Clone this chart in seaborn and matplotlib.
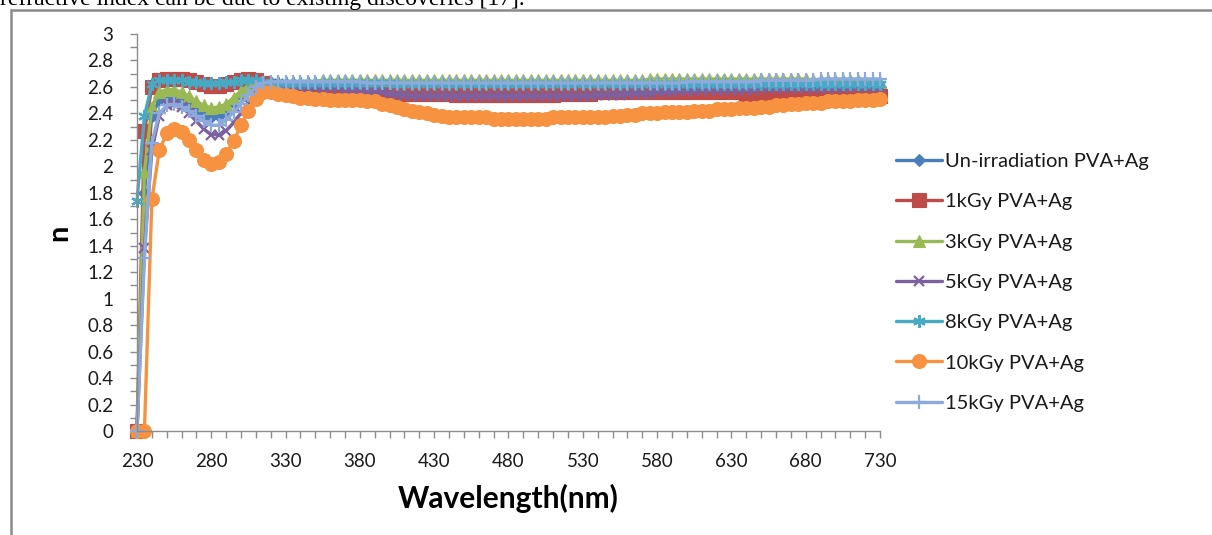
import numpy as np
import pandas as pd
import matplotlib
matplotlib.use("Agg")
import matplotlib.pyplot as plt
from matplotlib.lines import Line2D
from matplotlib.patches import Rectangle
import seaborn as sns

# Wavelength grid (nm)
wavelength = list(range(230, 735, 5))

# Refractive index n for each sample
n_unirr = [
    0.00, 1.80, 2.38, 2.50, 2.52, 2.51, 2.48, 2.45, 2.41, 2.38,
    2.37, 2.38, 2.42, 2.48, 2.54, 2.59, 2.62, 2.63, 2.62, 2.61,
    2.61, 2.61, 2.61, 2.61, 2.61, 2.61, 2.61, 2.60, 2.60, 2.60,
    2.60, 2.60, 2.60, 2.60, 2.60, 2.60, 2.59, 2.59, 2.59, 2.59,
    2.59, 2.59, 2.59, 2.59, 2.59, 2.59, 2.59, 2.59, 2.59, 2.59,
    2.59, 2.59, 2.59, 2.59, 2.59, 2.59, 2.59, 2.59, 2.59, 2.59,
    2.59, 2.59, 2.59, 2.59, 2.59, 2.60, 2.60, 2.60, 2.60, 2.60,
    2.60, 2.60, 2.60, 2.60, 2.60, 2.60, 2.60, 2.60, 2.60, 2.60,
    2.60, 2.60, 2.60, 2.60, 2.60, 2.60, 2.60, 2.60, 2.60, 2.60,
    2.60, 2.60, 2.60, 2.60, 2.60, 2.60, 2.60, 2.60, 2.60, 2.60,
    2.60,
]
n_1kgy = [
    0.00, 2.27, 2.60, 2.65, 2.66, 2.66, 2.66, 2.65, 2.64, 2.62,
    2.61, 2.61, 2.62, 2.64, 2.65, 2.66, 2.65, 2.63, 2.61, 2.60,
    2.60, 2.59, 2.59, 2.58, 2.58, 2.58, 2.58, 2.58, 2.57, 2.57,
    2.57, 2.56, 2.56, 2.55, 2.55, 2.55, 2.55, 2.55, 2.55, 2.55,
    2.55, 2.55, 2.55, 2.54, 2.54, 2.54, 2.54, 2.54, 2.54, 2.54,
    2.54, 2.54, 2.54, 2.54, 2.54, 2.54, 2.54, 2.55, 2.55, 2.55,
    2.55, 2.55, 2.56, 2.56, 2.56, 2.56, 2.56, 2.56, 2.56, 2.56,
    2.56, 2.56, 2.56, 2.56, 2.56, 2.56, 2.56, 2.56, 2.56, 2.56,
    2.56, 2.56, 2.55, 2.55, 2.55, 2.55, 2.55, 2.55, 2.55, 2.55,
    2.55, 2.55, 2.55, 2.54, 2.54, 2.54, 2.54, 2.54, 2.54, 2.54,
    2.53,
]
n_3kgy = [
    0.00, 1.96, 2.45, 2.56, 2.58, 2.58, 2.56, 2.53, 2.49, 2.46,
    2.44, 2.45, 2.47, 2.52, 2.57, 2.61, 2.63, 2.64, 2.64, 2.64,
    2.64, 2.64, 2.64, 2.64, 2.64, 2.65, 2.65, 2.65, 2.65, 2.65,
    2.65, 2.65, 2.65, 2.65, 2.65, 2.65, 2.65, 2.65, 2.65, 2.65,
    2.65, 2.65, 2.65, 2.65, 2.65, 2.65, 2.65, 2.65, 2.65, 2.65,
    2.65, 2.65, 2.65, 2.65, 2.65, 2.65, 2.65, 2.65, 2.65, 2.65,
    2.65, 2.65, 2.65, 2.65, 2.65, 2.65, 2.65, 2.65, 2.65, 2.66,
    2.66, 2.66, 2.66, 2.66, 2.66, 2.66, 2.66, 2.66, 2.66, 2.66,
    2.66, 2.66, 2.66, 2.66, 2.66, 2.66, 2.66, 2.66, 2.66, 2.66,
    2.66, 2.65, 2.65, 2.65, 2.65, 2.65, 2.65, 2.65, 2.64, 2.64,
    2.64,
]
n_5kgy = [
    0.00, 1.38, 2.12, 2.38, 2.46, 2.47, 2.45, 2.40, 2.34, 2.28,
    2.24, 2.24, 2.27, 2.33, 2.40, 2.48, 2.56, 2.61, 2.62, 2.62,
    2.61, 2.61, 2.60, 2.60, 2.60, 2.59, 2.59, 2.59, 2.58, 2.58,
    2.58, 2.57, 2.56, 2.56, 2.55, 2.54, 2.54, 2.53, 2.53, 2.53,
    2.53, 2.53, 2.53, 2.53, 2.53, 2.53, 2.53, 2.53, 2.53, 2.53,
    2.53, 2.53, 2.53, 2.53, 2.53, 2.53, 2.53, 2.53, 2.53, 2.53,
    2.53, 2.53, 2.54, 2.54, 2.54, 2.54, 2.55, 2.55, 2.55, 2.55,
    2.56, 2.56, 2.56, 2.57, 2.57, 2.57, 2.58, 2.58, 2.58, 2.58,
    2.58, 2.58, 2.58, 2.58, 2.59, 2.59, 2.59, 2.59, 2.59, 2.59,
    2.59, 2.59, 2.59, 2.59, 2.59, 2.59, 2.60, 2.60, 2.60, 2.60,
    2.60,
]
n_8kgy = [
    1.74, 2.38, 2.62, 2.65, 2.65, 2.65, 2.65, 2.64, 2.64, 2.63,
    2.63, 2.63, 2.64, 2.64, 2.65, 2.65, 2.65, 2.64, 2.63, 2.63,
    2.63, 2.63, 2.63, 2.63, 2.63, 2.63, 2.63, 2.63, 2.63, 2.63,
    2.63, 2.63, 2.63, 2.63, 2.63, 2.62, 2.62, 2.62, 2.62, 2.62,
    2.62, 2.62, 2.62, 2.62, 2.62, 2.62, 2.62, 2.62, 2.62, 2.62,
    2.62, 2.62, 2.62, 2.62, 2.62, 2.62, 2.62, 2.62, 2.62, 2.62,
    2.62, 2.62, 2.62, 2.62, 2.62, 2.62, 2.62, 2.62, 2.62, 2.62,
    2.62, 2.62, 2.62, 2.62, 2.62, 2.62, 2.62, 2.62, 2.62, 2.62,
    2.62, 2.62, 2.62, 2.62, 2.62, 2.62, 2.62, 2.62, 2.62, 2.62,
    2.62, 2.62, 2.62, 2.62, 2.62, 2.62, 2.62, 2.62, 2.62, 2.62,
    2.62,
]
n_10kgy = [
    0.00, 0.00, 1.75, 2.12, 2.25, 2.28, 2.26, 2.20, 2.12, 2.05,
    2.02, 2.03, 2.09, 2.19, 2.31, 2.42, 2.51, 2.56, 2.56, 2.55,
    2.54, 2.53, 2.52, 2.52, 2.51, 2.51, 2.50, 2.50, 2.50, 2.50,
    2.50, 2.49, 2.49, 2.47, 2.46, 2.45, 2.43, 2.42, 2.41, 2.40,
    2.39, 2.38, 2.37, 2.37, 2.37, 2.37, 2.37, 2.37, 2.36, 2.36,
    2.36, 2.36, 2.36, 2.36, 2.36, 2.36, 2.37, 2.37, 2.37, 2.37,
    2.37, 2.37, 2.37, 2.37, 2.38, 2.38, 2.39, 2.39, 2.40, 2.40,
    2.40, 2.41, 2.41, 2.41, 2.41, 2.42, 2.42, 2.42, 2.43, 2.43,
    2.43, 2.44, 2.44, 2.44, 2.45, 2.45, 2.46, 2.46, 2.47, 2.47,
    2.48, 2.48, 2.48, 2.49, 2.49, 2.49, 2.49, 2.50, 2.50, 2.50,
    2.51,
]
n_15kgy = [
    0.00, 1.31, 2.18, 2.40, 2.46, 2.47, 2.45, 2.42, 2.38, 2.34,
    2.31, 2.31, 2.35, 2.41, 2.47, 2.54, 2.60, 2.63, 2.64, 2.64,
    2.64, 2.64, 2.64, 2.64, 2.64, 2.64, 2.64, 2.64, 2.64, 2.64,
    2.64, 2.63, 2.63, 2.63, 2.63, 2.63, 2.63, 2.63, 2.63, 2.63,
    2.63, 2.63, 2.63, 2.63, 2.63, 2.63, 2.63, 2.63, 2.63, 2.63,
    2.63, 2.63, 2.63, 2.63, 2.63, 2.63, 2.63, 2.63, 2.63, 2.63,
    2.63, 2.63, 2.63, 2.63, 2.63, 2.63, 2.63, 2.63, 2.63, 2.63,
    2.63, 2.63, 2.63, 2.63, 2.64, 2.64, 2.64, 2.64, 2.64, 2.64,
    2.64, 2.64, 2.64, 2.64, 2.65, 2.65, 2.65, 2.65, 2.65, 2.65,
    2.65, 2.65, 2.66, 2.66, 2.66, 2.66, 2.66, 2.66, 2.66, 2.66,
    2.66,
]

series_names = [
    "Un-irradiation PVA+Ag",
    "1kGy PVA+Ag",
    "3kGy PVA+Ag",
    "5kGy PVA+Ag",
    "8kGy PVA+Ag",
    "10kGy PVA+Ag",
    "15kGy PVA+Ag",
]
series_values = [n_unirr, n_1kgy, n_3kgy, n_5kgy, n_8kgy, n_10kgy, n_15kgy]

x_ticks = [230, 280, 330, 380, 430, 480, 530, 580, 630, 680, 730]
y_ticks = [0, 0.2, 0.4, 0.6, 0.8, 1, 1.2, 1.4, 1.6, 1.8, 2, 2.2, 2.4, 2.6, 2.8, 3]

# Long-form table for seaborn
df = pd.concat(
    [pd.DataFrame({"Wavelength": wavelength, "n": vals, "Sample": name})
     for name, vals in zip(series_names, series_values)],
    ignore_index=True,
)

colors = ["#4A7EBB", "#BE4B48", "#98B954", "#7D60A0", "#46AAC5", "#F69240", "#8EA9DB"]
asterisk = (6, 2, 0)
styles = [
    dict(marker="D", ms=6.5, mew=0.8),
    dict(marker="s", ms=10, mew=0.8),
    dict(marker="^", ms=8, mew=0.8),
    dict(marker="x", ms=7, mew=1.6),
    dict(marker=asterisk, ms=9, mew=1.6),
    dict(marker="o", ms=10, mew=0.8),
    dict(marker="+", ms=10, mew=1.6),
]

sns.set_theme(style="white")
plt.rcParams["font.family"] = ["Lato", "DejaVu Sans"]

W, H = 1212, 535
fig = plt.figure(figsize=(W / 100, H / 100), dpi=100)
ax = fig.add_axes([137 / W, 1 - 431 / H, (880 - 137) / W, (431 - 34) / H])

for name, col, st in zip(series_names, colors, styles):
    sub = df[df["Sample"] == name]
    sns.lineplot(data=sub, x="Wavelength", y="n", ax=ax, color=col, lw=2.4,
                 marker=st["marker"], markersize=st["ms"], markeredgewidth=st["mew"],
                 markeredgecolor=col, markerfacecolor=col, clip_on=False,
                 legend=False, label=name)

ax.set_xlim(230, 730)
ax.set_ylim(0, 3)
ax.set_xticks(x_ticks)
ax.set_xticklabels([str(v) for v in x_ticks])
ax.set_xticks(np.arange(230, 731, 10), minor=True)
ax.set_yticks(y_ticks)
ax.set_yticklabels([f"{v:g}" for v in y_ticks])
ax.set_yticks(np.arange(0, 3.01, 0.1), minor=True)

spine_col = "#8C8C8C"
for side in ["top", "right"]:
    ax.spines[side].set_visible(False)
for side in ["left", "bottom"]:
    ax.spines[side].set_color(spine_col)
    ax.spines[side].set_linewidth(1.0)
ax.tick_params(axis="both", which="both", direction="out", length=5,
               width=1.0, color=spine_col, labelsize=13.5, labelcolor="#1a1a1a")
ax.tick_params(axis="x", which="both", bottom=True, pad=11)
ax.tick_params(axis="y", which="both", left=True, pad=12)

ax.set_xlabel("Wavelength(nm)", fontsize=21.5, fontweight="bold", labelpad=10,
              color="#000000")
ax.set_ylabel("n", fontsize=21, fontweight="bold", labelpad=11, color="#000000")

handles = [
    Line2D([0], [0], color=col, lw=2.4, marker=st["marker"], ms=st["ms"],
           mew=st["mew"], mec=col, mfc=col)
    for col, st in zip(colors, styles)
]
fig.legend(handles, series_names, loc="upper left",
           bbox_to_anchor=(878 / W, 1 - 135 / H), frameon=False,
           fontsize=14.5, handlelength=2.3, handletextpad=0.15,
           labelspacing=1.15, labelcolor="#1a1a1a")

# Surrounding frame and the text line above it
fig.patches.append(Rectangle((10.5 / W, -0.05), 1.2, 1 - 10 / H + 0.05,
                             transform=fig.transFigure, fill=False,
                             edgecolor="#8A8A8A", lw=1.8))
fig.text(0, 1 - 5 / H, "refractive index can be due to existing discoveries [17].",
         fontsize=17, family=["Liberation Serif"], va="baseline", ha="left",
         color="#000000")

fig.savefig("out.png", dpi=100)
